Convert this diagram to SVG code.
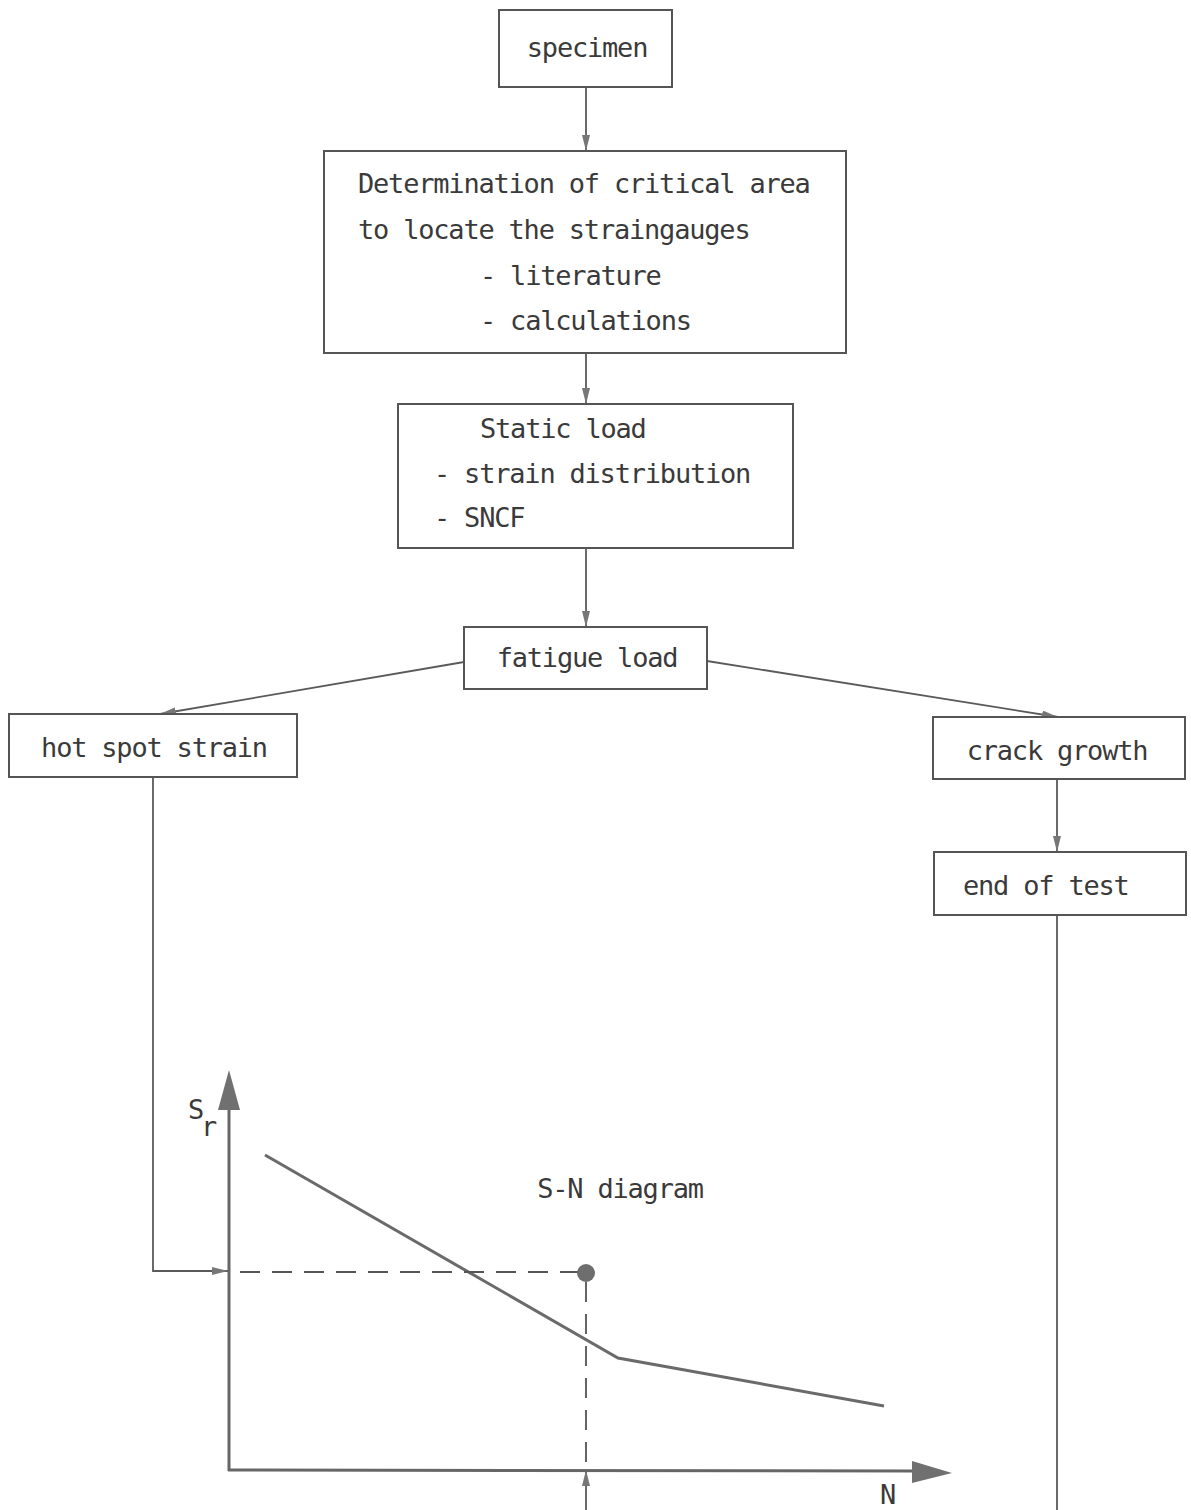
<svg xmlns="http://www.w3.org/2000/svg" width="1191" height="1510" viewBox="0 0 1191 1510">
  <style>
    .box { fill: #ffffff; stroke: #555555; stroke-width: 2; }
    .lbl { font-family: "DejaVu Sans Mono", "Liberation Mono", monospace; font-size: 27px; letter-spacing: -1.2px; fill: #3a3a3a; }
    .mid { text-anchor: middle; }
    .wire { fill: none; stroke: #5a5a5a; stroke-width: 1.8; }
    .axis { fill: none; stroke: #666666; stroke-width: 3; }
    .curve { fill: none; stroke: #6a6a6a; stroke-width: 3; }
    .dash { fill: none; stroke: #555555; stroke-width: 1.8; stroke-dasharray: 20 12; }
  </style>
  <defs>
    <marker id="arrow" viewBox="0 0 16 8" refX="16" refY="4" markerWidth="16" markerHeight="8" markerUnits="userSpaceOnUse" orient="auto">
      <path d="M0,0 L16,4 L0,8 Z" fill="#777777"/>
    </marker>
  </defs>

  <rect width="1191" height="1510" fill="#ffffff"/>

  <!-- connectors -->
  <g id="connectors">
    <line class="wire" x1="586" y1="87" x2="586" y2="151" marker-end="url(#arrow)"/>
    <line class="wire" x1="586" y1="353" x2="586" y2="404" marker-end="url(#arrow)"/>
    <line class="wire" x1="586" y1="548" x2="586" y2="627" marker-end="url(#arrow)"/>
    <line class="wire" x1="464" y1="662" x2="160" y2="714" marker-end="url(#arrow)"/>
    <line class="wire" x1="707" y1="661" x2="1058" y2="717" marker-end="url(#arrow)"/>
    <line class="wire" x1="1057" y1="779" x2="1057" y2="852" marker-end="url(#arrow)"/>
    <line class="wire" x1="1057" y1="915" x2="1057" y2="1510"/>
    <!-- hot spot strain into the S-N diagram -->
    <polyline class="wire" points="153,777 153,1271 228,1271" marker-end="url(#arrow)"/>
    <!-- end-of-test life read back onto the N axis -->
    <line class="wire" x1="586" y1="1510" x2="586" y2="1470" marker-end="url(#arrow)"/>
  </g>

  <!-- flow nodes -->
  <g id="specimen">
    <rect class="box" x="499" y="10" width="173" height="77"/>
    <text class="lbl mid" x="587" y="57">specimen</text>
  </g>

  <g id="critical-area">
    <rect class="box" x="324" y="151" width="522" height="202"/>
    <text class="lbl" x="358" y="193">Determination of critical area</text>
    <text class="lbl" x="358" y="239">to locate the straingauges</text>
    <text class="lbl" x="480" y="285">- literature</text>
    <text class="lbl" x="480" y="330">- calculations</text>
  </g>

  <g id="static-load">
    <rect class="box" x="398" y="404" width="395" height="144"/>
    <text class="lbl" x="480" y="438">Static load</text>
    <text class="lbl" x="434" y="483">- strain distribution</text>
    <text class="lbl" x="434" y="527">- SNCF</text>
  </g>

  <g id="fatigue-load">
    <rect class="box" x="464" y="627" width="243" height="62"/>
    <text class="lbl mid" x="587" y="667">fatigue load</text>
  </g>

  <g id="hot-spot-strain">
    <rect class="box" x="9" y="714" width="288" height="63"/>
    <text class="lbl mid" x="154" y="757">hot spot strain</text>
  </g>

  <g id="crack-growth">
    <rect class="box" x="933" y="717" width="252" height="62"/>
    <text class="lbl mid" x="1057" y="760">crack growth</text>
  </g>

  <g id="end-of-test">
    <rect class="box" x="934" y="852" width="252" height="63"/>
    <text class="lbl" x="963" y="895">end of test</text>
  </g>

  <!-- S-N diagram -->
  <g id="sn-diagram">
    <line class="axis" x1="229" y1="1471" x2="229" y2="1105"/>
    <path d="M229,1070 L240,1110 L218,1110 Z" fill="#707070"/>
    <line class="axis" x1="228" y1="1470" x2="915" y2="1471"/>
    <path d="M952,1473 L912,1461 L912,1483 Z" fill="#707070"/>
    <text class="lbl" x="188" y="1119">S</text>
    <text class="lbl" x="201" y="1136">r</text>
    <text class="lbl" x="880" y="1504">N</text>
    <polyline class="curve" points="265,1155 618,1358 884,1406"/>
    <line class="dash" x1="240" y1="1272" x2="580" y2="1272"/>
    <line class="dash" x1="586" y1="1282" x2="586" y2="1462"/>
    <circle cx="586" cy="1273" r="9" fill="#6e6e6e"/>
    <text class="lbl mid" x="620" y="1198">S-N diagram</text>
  </g>
</svg>
